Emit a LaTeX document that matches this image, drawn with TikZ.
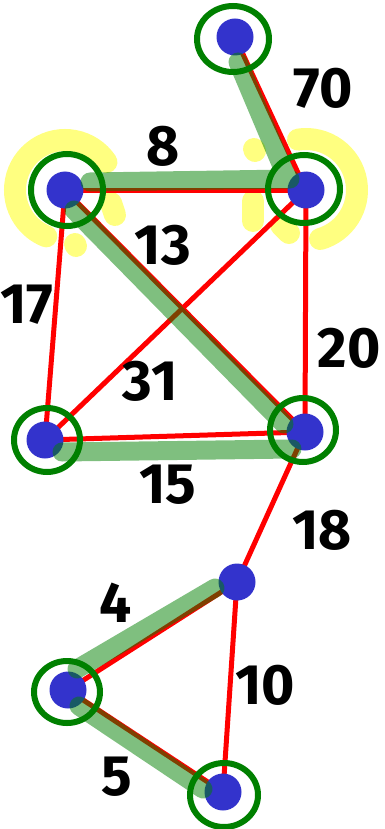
\documentclass[tikz,border=0pt]{standalone}
\usepackage{fontspec}
\setsansfont{Fira Sans}
\definecolor{redc}{RGB}{255,0,0}
\definecolor{bandg}{RGB}{0,128,0}
\definecolor{ringg}{RGB}{0,128,0}
\definecolor{dotb}{RGB}{51,51,204}
\definecolor{glowy}{RGB}{255,255,128}
\begin{document}
\begin{tikzpicture}[x=1pt,y=-1pt,
  redl/.style={draw=redc, line width=5pt},
  band/.style={draw=bandg, line width=19pt, line cap=round, opacity=0.5},
  dot/.style={circle, fill=dotb, inner sep=0pt, minimum size=37pt},
  ring/.style={draw=ringg, line width=6pt},
  glow/.style={draw=glowy, line width=22pt, line cap=round},
  lbl/.style={font=\sffamily\bfseries\fontsize{57}{60}\selectfont, text=black, inner sep=0pt}]
\useasboundingbox (0,0) rectangle (385,829);
% vertex positions
\coordinate (A) at (235,37);
\coordinate (B) at (65,190);
\coordinate (C) at (306,190);
\coordinate (D) at (45,440);
\coordinate (E) at (305,432);
\coordinate (F) at (237,582);
\coordinate (G) at (68,690);
\coordinate (H) at (223,792);
% yellow glow
\draw[glow] ([shift={(-34:50)}]B) arc[start angle=-34, end angle=-248, radius=50];
\draw[glow] (111,203) -- (115,215);
\draw[glow] (75,244) -- (76,246);
\draw[glow] ([shift={(-99:51)}]C) arc[start angle=-99, end angle=74, radius=51];
\draw[glow] (254,149) -- (255,151);
\draw[glow] (253,201) -- (253,221);
\draw[glow] (281,225) -- (289,233);
% red edges
\draw[redl] (A) -- (C);
\draw[redl] (B) -- (C);
\draw[redl] (B) -- (D);
\draw[redl] (B) -- (E);
\draw[redl] (C) -- (D);
\draw[redl] (C) -- (E);
\draw[redl] (D) -- (E);
\draw[redl] (E) -- (F);
\draw[redl] (F) -- (G);
\draw[redl] (G) -- (H);
\draw[redl] (F) -- (H);
% dots
\foreach \v in {A,B,C,D,E,F,G,H} \node[dot] (n\v) at (\v) {};
% green bands
\coordinate (bAC1) at (238,62);  \coordinate (bAC2) at (287,178);
\coordinate (bBC1) at (90,182);  \coordinate (bBC2) at (290,179);
\coordinate (bBE1) at (74,210);  \coordinate (bBE2) at (284,424);
\coordinate (bDE1) at (62,452);  \coordinate (bDE2) at (292,449);
\coordinate (bFG1) at (77,669);  \coordinate (bFG2) at (215,588);
\coordinate (bGH1) at (79,706);  \coordinate (bGH2) at (203,789);
\draw[band] (bAC1) -- (bAC2) (bBC1) -- (bBC2) (bBE1) -- (bBE2)
            (bDE1) -- (bDE2) (bFG1) -- (bFG2) (bGH1) -- (bGH2);
% rings
\draw[ring] ([shift={(-2,2)}]A) ellipse[x radius=36, y radius=33];
\draw[ring] ([shift={(2,0)}]B) ellipse[x radius=36, y radius=36];
\draw[ring] ([shift={(-2,-1)}]C) ellipse[x radius=36, y radius=34];
\draw[ring] ([shift={(2,0)}]D) ellipse[x radius=33, y radius=32];
\draw[ring] ([shift={(-2,-2)}]E) ellipse[x radius=33, y radius=32];
\draw[ring] ([shift={(-1,2)}]G) ellipse[x radius=33, y radius=31];
\draw[ring] ([shift={(1,3)}]H) ellipse[x radius=34, y radius=32];
% labels
\node[lbl] (l70) at (323,88) {70};
\node[lbl] (l8) at (163,146) {8};
\node[lbl] (l13) at (163,245) {13};
\node[lbl] (l17) at (27,305) {17};
\node[lbl] (l31) at (150,381) {31};
\node[lbl] (l20) at (349,348) {20};
\node[lbl] (l15) at (168,485) {15};
\node[lbl] (l18) at (322,530) {18};
\node[lbl] (l4) at (116,603) {4};
\node[lbl] (l10) at (265,685) {10};
\node[lbl] (l5) at (117,777) {5};
\end{tikzpicture}
\end{document}
